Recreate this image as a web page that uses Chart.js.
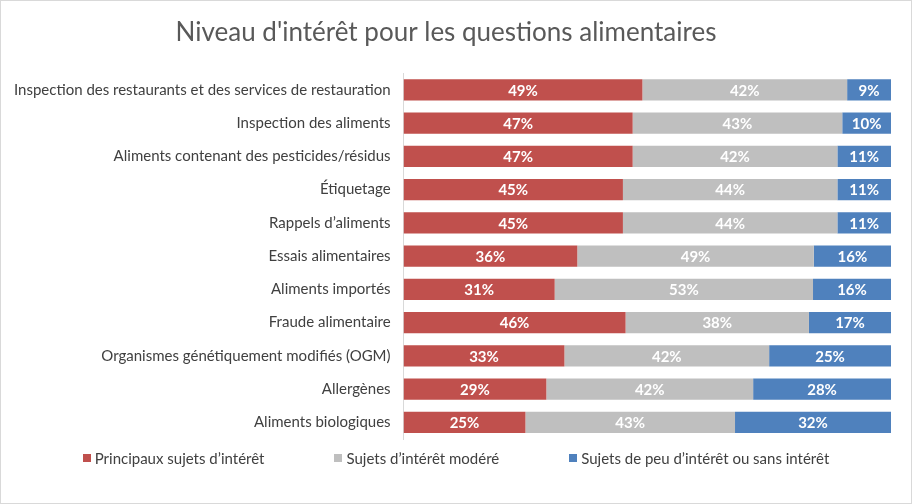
<!DOCTYPE html>
<html>
<head>
<meta charset="utf-8">
<script src="https://cdn.jsdelivr.net/npm/chart.js@4"></script>
<style>
    body { margin: 0; background: #fff; }
    #box { position: relative; width: 912px; height: 504px; box-sizing: border-box; border: 1px solid #d9d9d9; background: #fff; }
    #legend { position: absolute; left: 0; top: 448px; width: 910px; display: flex; justify-content: center; gap: 70px; font-family: Lato, sans-serif; font-size: 15px; color: #404040; }
    #legend span.item { display: flex; align-items: center; }
    #legend i { display: inline-block; width: 8px; height: 8px; margin-right: 4px; }
</style>
</head>
<body>
<div id="box">
    <canvas id="myChart" width="910" height="502"></canvas>
    <div id="legend"></div>
</div>
<script>
let categories = [
    'Inspection des restaurants et des services de restauration',
    'Inspection des aliments',
    'Aliments contenant des pesticides/résidus',
    'Étiquetage',
    'Rappels d’aliments',
    'Essais alimentaires',
    'Aliments importés',
    'Fraude alimentaire',
    'Organismes génétiquement modifiés (OGM)',
    'Allergènes',
    'Aliments biologiques'
]
let principaux = [49, 47, 47, 45, 45, 36, 31, 46, 33, 29, 25]
let moderes = [42, 43, 42, 44, 44, 49, 53, 38, 42, 42, 43]
let peuInteret = [9, 10, 11, 11, 11, 16, 16, 17, 25, 28, 32]

let seriesNames = ['Principaux sujets d’intérêt', 'Sujets d’intérêt modéré', 'Sujets de peu d’intérêt ou sans intérêt']
let colors = ['#c0504d', '#bfbfbf', '#4f81bd']

// barres empilées à 100 %
let totals = categories.map((c, i) => principaux[i] + moderes[i] + peuInteret[i])
let share = (arr) => arr.map((v, i) => v * 100 / totals[i])

let all = [principaux, moderes, peuInteret]

let valueLabels = {
    id: 'valueLabels',
    afterDatasetsDraw(chart) {
        const ctx = chart.ctx
        ctx.save()
        ctx.font = 'bold 15px Lato, sans-serif'
        ctx.fillStyle = '#ffffff'
        ctx.textAlign = 'center'
        ctx.textBaseline = 'middle'
        chart.data.datasets.forEach((ds, d) => {
            chart.getDatasetMeta(d).data.forEach((bar, i) => {
                ctx.fillText(all[d][i] + '%', (bar.x + bar.base) / 2, bar.y + 1)
            })
        })
        ctx.restore()
    }
}

const ctx = document.getElementById('myChart')

const dataset = {
    labels: categories,
    datasets: all.map((arr, d) => ({
        label: seriesNames[d],
        data: share(arr),
        backgroundColor: colors[d],
        categoryPercentage: 0.64,
        barPercentage: 1
    }))
}

const config = {
    type: 'bar',
    data: dataset,
    options: {
        indexAxis: 'y',
        responsive: false,
        animation: false,
        layout: { padding: { left: 0, right: 20, top: 0, bottom: 64 } },
        scales: {
            x: { stacked: true, min: 0, max: 100, display: false },
            y: {
                stacked: true,
                grid: { display: false, drawTicks: false },
                border: { display: true, color: '#d9d9d9', width: 1 },
                ticks: { padding: 13, color: '#404040', font: { family: 'Lato', size: 15 } }
            }
        },
        plugins: {
            legend: { display: false },
            tooltip: { enabled: false },
            title: {
                display: true,
                text: 'Niveau d\'intérêt pour les questions alimentaires',
                color: '#595959',
                font: { family: 'Lato', size: 26, weight: 'normal' },
                padding: { top: 16, bottom: 25 }
            }
        }
    },
    plugins: [valueLabels]
}

const chart = new Chart(ctx, config)

let legendHTML = document.getElementById('legend')
seriesNames.forEach((name, d) => {
    let item = document.createElement('span')
    item.className = 'item'
    item.innerHTML = '<i style="background:' + colors[d] + '"></i>' + name
    legendHTML.appendChild(item)
})
</script>
</body>
</html>
